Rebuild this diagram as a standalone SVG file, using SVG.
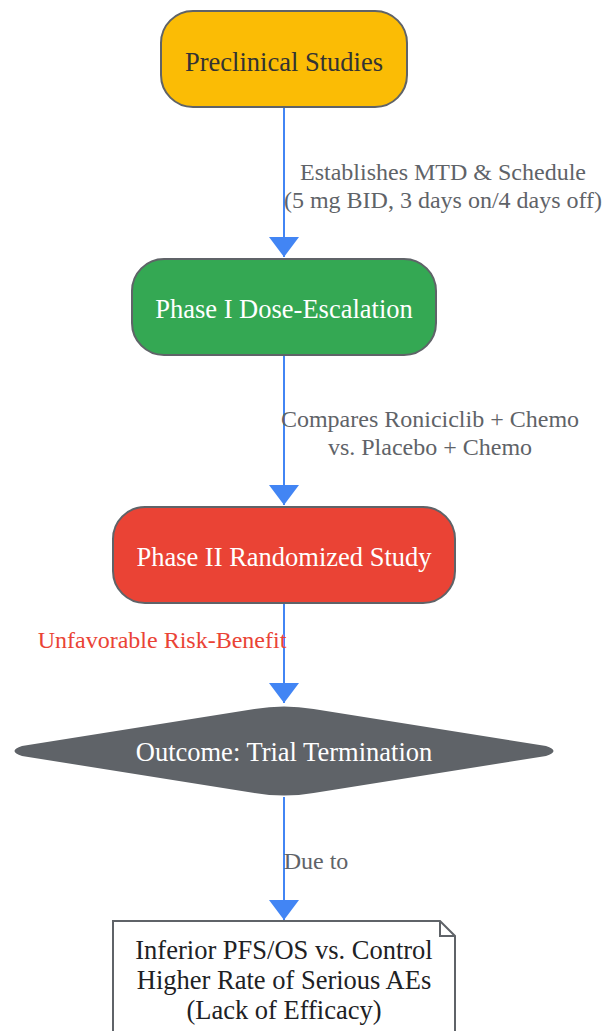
<svg xmlns="http://www.w3.org/2000/svg" width="603" height="1031" viewBox="0 0 603 1031">
<defs>
<marker id="arr" markerUnits="userSpaceOnUse" markerWidth="20" markerHeight="30" refX="20" refY="10" orient="auto" viewBox="0 0 20 20" preserveAspectRatio="none">
<path d="M0,0 L20,10 L0,20 Z" fill="#4285F4"/>
</marker>
<style>
.box{stroke:#5f6368;stroke-width:2}
.nt{font-family:"Liberation Serif",serif;font-size:26.5px;text-anchor:middle}
.lb{font-family:"Liberation Serif",serif;font-size:24px;text-anchor:middle;fill:#5f6368}
.edge{stroke:#4285F4;stroke-width:2;fill:none}
</style>
</defs>
<rect width="603" height="1031" fill="#ffffff"/>
<g id="connectors">
<path class="edge" d="M284,107 L284,257" marker-end="url(#arr)"/>
<path class="edge" d="M284,355 L284,505" marker-end="url(#arr)"/>
<path class="edge" d="M284,603 L284,703" marker-end="url(#arr)"/>
<path class="edge" d="M284,797 L284,920" marker-end="url(#arr)"/>
<text class="lb" x="443" y="180">Establishes MTD &amp; Schedule</text>
<text class="lb" x="443" y="208">(5 mg BID, 3 days on/4 days off)</text>
<text class="lb" x="430" y="427">Compares Roniciclib + Chemo</text>
<text class="lb" x="430" y="455">vs. Placebo + Chemo</text>
<text class="lb" x="162" y="648" style="fill:#EA4335">Unfavorable Risk-Benefit</text>
<text class="lb" x="316" y="869">Due to</text>
</g>
<g id="preclinical">
<rect class="box" x="161" y="11" width="246" height="96" rx="32" fill="#FBBC05"/>
<text class="nt" x="284" y="71" fill="#333333">Preclinical Studies</text>
</g>
<g id="phase1">
<rect class="box" x="132" y="259" width="304" height="96" rx="32" fill="#34A853"/>
<text class="nt" x="284" y="318" fill="#ffffff">Phase I Dose-Escalation</text>
</g>
<g id="phase2">
<rect class="box" x="113" y="507" width="342" height="96" rx="32" fill="#EA4335"/>
<text class="nt" x="284" y="566" fill="#ffffff">Phase II Randomized Study</text>
</g>
<g id="outcome">
<path d="M254.4,709 Q284,704 313.6,709 L546,746 Q561,751 546,756 L313.6,793 Q284,798 254.4,793 L22,756 Q7,751 22,746 Z" fill="#5f6368"/>
<text class="nt" x="284" y="761" fill="#ffffff">Outcome: Trial Termination</text>
</g>
<g id="reason">
<path class="box" d="M113,921 L440,921 L455,936 L455,1045 L113,1045 Z" fill="#ffffff"/>
<path class="box" d="M440,921 L440,936 L455,936" fill="none"/>
<text class="nt" x="284" y="959" fill="#202124">Inferior PFS/OS vs. Control</text>
<text class="nt" x="284" y="989" fill="#202124">Higher Rate of Serious AEs</text>
<text class="nt" x="284" y="1019" fill="#202124">(Lack of Efficacy)</text>
</g>
</svg>
